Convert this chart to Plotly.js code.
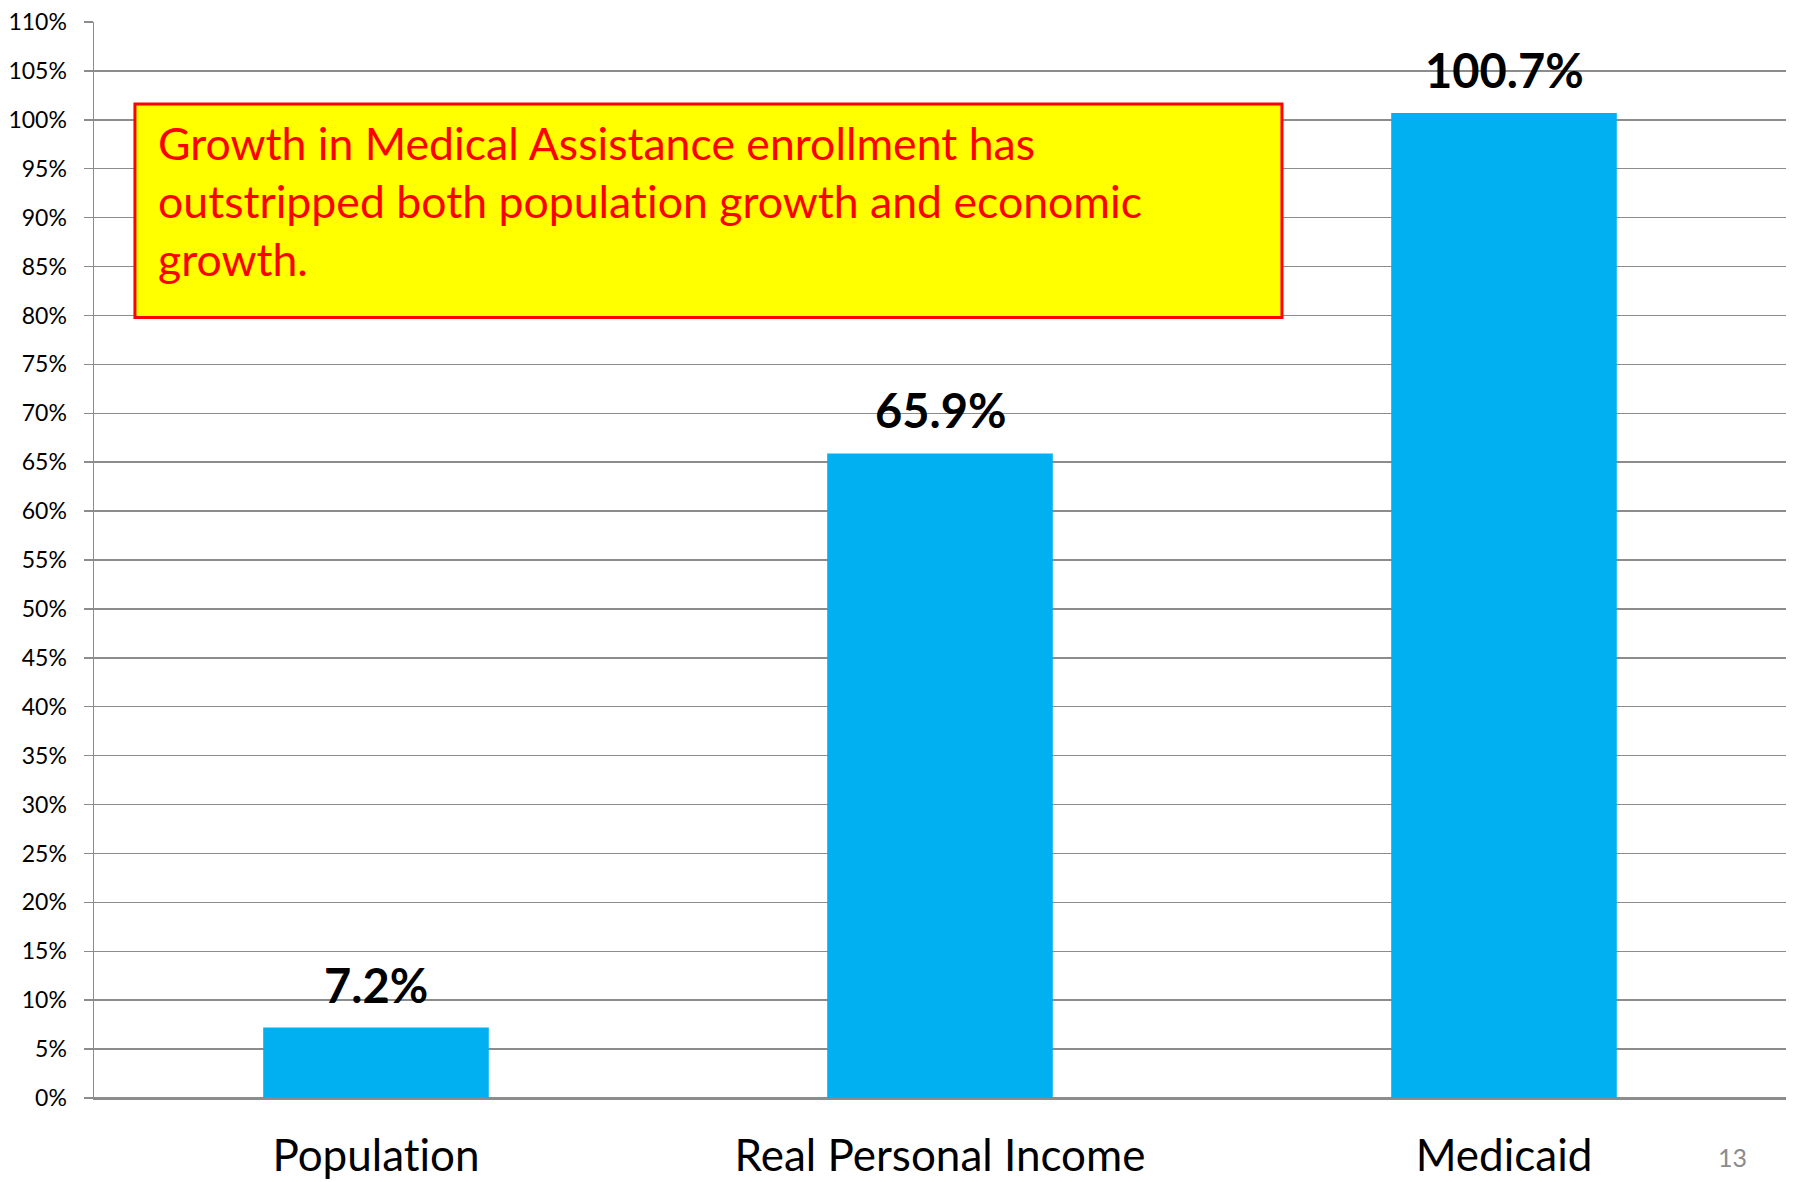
<!DOCTYPE html>
<html>
<head>
<meta charset="utf-8">
<script src="https://cdn.plot.ly/plotly-3.0.1.min.js"></script>
<style>html,body{margin:0;padding:0;background:#fff;}#chart{width:1797px;height:1182px;}
text{font-variant-ligatures:none;font-feature-settings:"liga" 0;}</style>
</head>
<body>
<div id="chart"></div>
<script>
const categories = ["Population", "Real Personal Income", "Medicaid"];
const growthPct = [7.2, 65.9, 100.7];
const noteLines = ["Growth in Medical Assistance enrollment has", "outstripped both population growth and economic", "growth."];
const pageNumber = "13";

const FONT = "Lato, 'Open Sans', sans-serif";
const GRID = "#8c8c8c";

const trace = {
  type: "bar",
  x: categories,
  y: growthPct,
  marker: {color: "#00B0F0", line: {width: 0}},
  hoverinfo: "skip"
};

const labelAnns = categories.map((c, i) => ({
  x: c, y: growthPct[i], xref: "x", yref: "y",
  text: growthPct[i].toFixed(1) + "%",
  showarrow: false, yanchor: "bottom", yshift: 13,
  font: {family: FONT, size: 47, color: "#000", weight: "bold"}
}));

const layout = {
  width: 1797, height: 1182,
  margin: {l: 94, r: 11, t: 22, b: 84, pad: 0},
  paper_bgcolor: "#fff", plot_bgcolor: "#fff",
  showlegend: false,
  bargap: 0.6,
  font: {family: FONT, color: "#000"},
  xaxis: {
    type: "category",
    showgrid: false,
    showline: true, linecolor: GRID, linewidth: 1.5,
    ticks: "", ticklabelstandoff: 19,
    tickfont: {family: FONT, size: 44, color: "#000"},
    fixedrange: true
  },
  yaxis: {
    range: [0, 110], dtick: 5, tick0: 0,
    ticksuffix: "%",
    showgrid: true, gridcolor: GRID, gridwidth: 1.5,
    zeroline: true, zerolinecolor: GRID, zerolinewidth: 1.5,
    showline: true, linecolor: GRID, linewidth: 1.5,
    ticks: "outside", ticklen: 9, tickcolor: GRID, tickwidth: 1.5,
    ticklabelstandoff: 12,
    tickfont: {family: FONT, size: 23, color: "#000"},
    fixedrange: true
  },
  shapes: [{
    type: "rect", xref: "paper", yref: "paper",
    x0: 0.0242, x1: 0.7021, y0: 0.7254, y1: 0.9238,
    fillcolor: "#FFFF00", line: {color: "#FF0000", width: 3}, layer: "above"
  }],
  annotations: labelAnns.concat([
    {
      xref: "paper", yref: "paper", x: 0.0366, y: 0.8340,
      xanchor: "left", yanchor: "middle", align: "left",
      text: noteLines.join("<br>"), showarrow: false,
      font: {family: FONT, size: 44.6, color: "#FF0000"}
    },
    {
      xref: "paper", yref: "paper", x: (1732 - 94) / 1692, y: (1098 - 1157) / 1076,
      xanchor: "center", yanchor: "middle",
      text: pageNumber, showarrow: false,
      font: {family: FONT, size: 25, color: "#8c8c8c"}
    }
  ])
};

Plotly.newPlot("chart", [trace], layout, {displayModeBar: false, staticPlot: true});
</script>
</body>
</html>
